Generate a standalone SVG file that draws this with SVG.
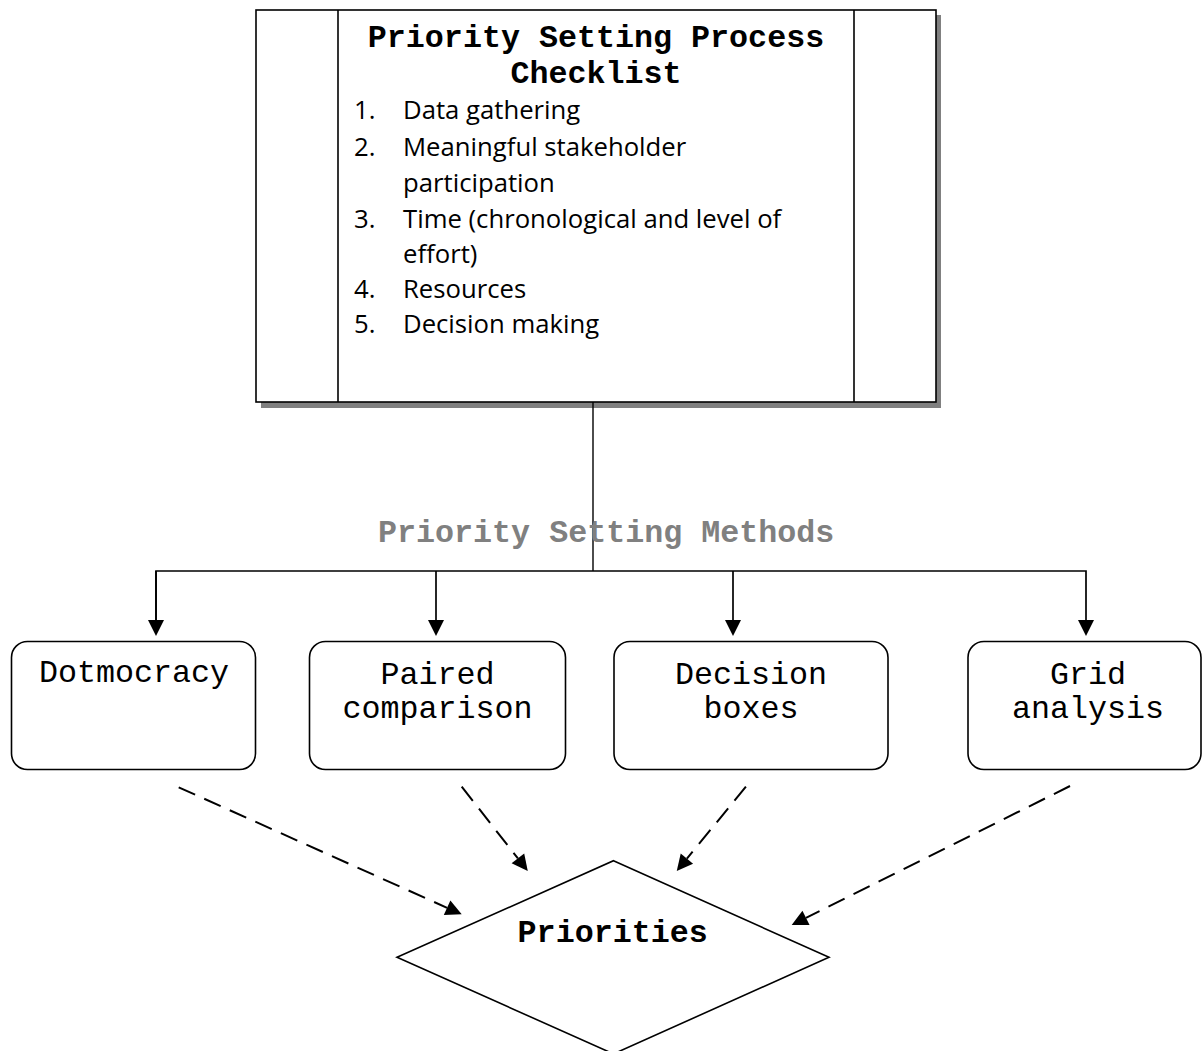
<svg xmlns="http://www.w3.org/2000/svg" width="1202" height="1051" viewBox="0 0 1202 1051">
  <style>
    .mono { font-family: "Liberation Mono", "Courier New", monospace; font-size: 31.7px; }
    .bold { font-weight: bold; }
    .list { font-family: "Open Sans", "Liberation Sans", sans-serif; font-size: 25.7px; fill: #000; }
    .box { fill: #fff; stroke: #000; stroke-width: 1.6; }
    .solid { fill: none; stroke: #000; stroke-width: 1.7; }
    .dash { fill: none; stroke: #000; stroke-width: 2; stroke-dasharray: 18 10; }
  </style>
  <defs>
    <marker id="ah" markerUnits="userSpaceOnUse" markerWidth="16" markerHeight="16" viewBox="0 0 16 16" refX="0" refY="8" orient="auto" overflow="visible">
      <path d="M0,0 L16,8 L0,16 Z" fill="#000"/>
    </marker>
  </defs>
  <rect width="1202" height="1051" fill="#fff"/>

  <g id="checklist">
    <rect x="261" y="15" width="680" height="393" fill="#808080"/>
    <rect class="box" x="256" y="10" width="680" height="392"/>
    <line x1="338" y1="10" x2="338" y2="402" stroke="#000" stroke-width="1.6"/>
    <line x1="854" y1="10" x2="854" y2="402" stroke="#000" stroke-width="1.6"/>
    <text class="mono bold" x="596" y="47" text-anchor="middle">Priority Setting Process</text>
    <text class="mono bold" x="596" y="83" text-anchor="middle">Checklist</text>
    <g class="list">
      <text x="354" y="119">1.</text><text x="403" y="119">Data gathering</text>
      <text x="354" y="156">2.</text><text x="403" y="156">Meaningful stakeholder</text>
      <text x="403" y="192">participation</text>
      <text x="354" y="228">3.</text><text x="403" y="228">Time (chronological and level of</text>
      <text x="403" y="263">effort)</text>
      <text x="354" y="298">4.</text><text x="403" y="298">Resources</text>
      <text x="354" y="333">5.</text><text x="403" y="333">Decision making</text>
    </g>
  </g>

  <g id="connectors">
    <line x1="593" y1="402" x2="593" y2="571" stroke="#000" stroke-width="1.4"/>
    <polyline class="solid" points="156,620 156,571 1086,571 1086,620" marker-end="url(#ah)"/>
    <line class="solid" x1="156" y1="571" x2="156" y2="620" marker-end="url(#ah)"/>
    <line class="solid" x1="436" y1="571" x2="436" y2="620" marker-end="url(#ah)"/>
    <line class="solid" x1="733" y1="571" x2="733" y2="620" marker-end="url(#ah)"/>
    <line class="dash" x1="178.7" y1="787.3" x2="447.1" y2="907.8" marker-end="url(#ah)"/>
    <line class="dash" x1="461.7" y1="786.7" x2="517.9" y2="858.4" marker-end="url(#ah)"/>
    <line class="dash" x1="745.9" y1="786.7" x2="686.9" y2="858.6" marker-end="url(#ah)"/>
    <line class="dash" x1="1070" y1="786" x2="806" y2="917.9" marker-end="url(#ah)"/>
  </g>

  <g id="methods-label">
    <text class="mono bold" x="378" y="541.7" fill="#808080">Priority Setting Methods</text>
  </g>

  <g id="dotmocracy">
    <rect class="box" x="11.5" y="641.5" width="244" height="128" rx="16"/>
    <text class="mono" x="134" y="682" text-anchor="middle">Dotmocracy</text>
  </g>
  <g id="paired-comparison">
    <rect class="box" x="309.5" y="641.5" width="256" height="128" rx="16"/>
    <text class="mono" x="437.5" y="684" text-anchor="middle">Paired</text>
    <text class="mono" x="437.5" y="718" text-anchor="middle">comparison</text>
  </g>
  <g id="decision-boxes">
    <rect class="box" x="614" y="641.5" width="274" height="128" rx="16"/>
    <text class="mono" x="751" y="684" text-anchor="middle">Decision</text>
    <text class="mono" x="751" y="718" text-anchor="middle">boxes</text>
  </g>
  <g id="grid-analysis">
    <rect class="box" x="968" y="641.5" width="233" height="128" rx="16"/>
    <text class="mono" x="1088" y="684" text-anchor="middle">Grid</text>
    <text class="mono" x="1088" y="718" text-anchor="middle">analysis</text>
  </g>

  <g id="priorities">
    <polygon class="box" points="613.5,860.7 829,957.3 613.5,1053.9 397,957.3"/>
    <text class="mono bold" x="612.7" y="941.7" text-anchor="middle">Priorities</text>
  </g>
</svg>
